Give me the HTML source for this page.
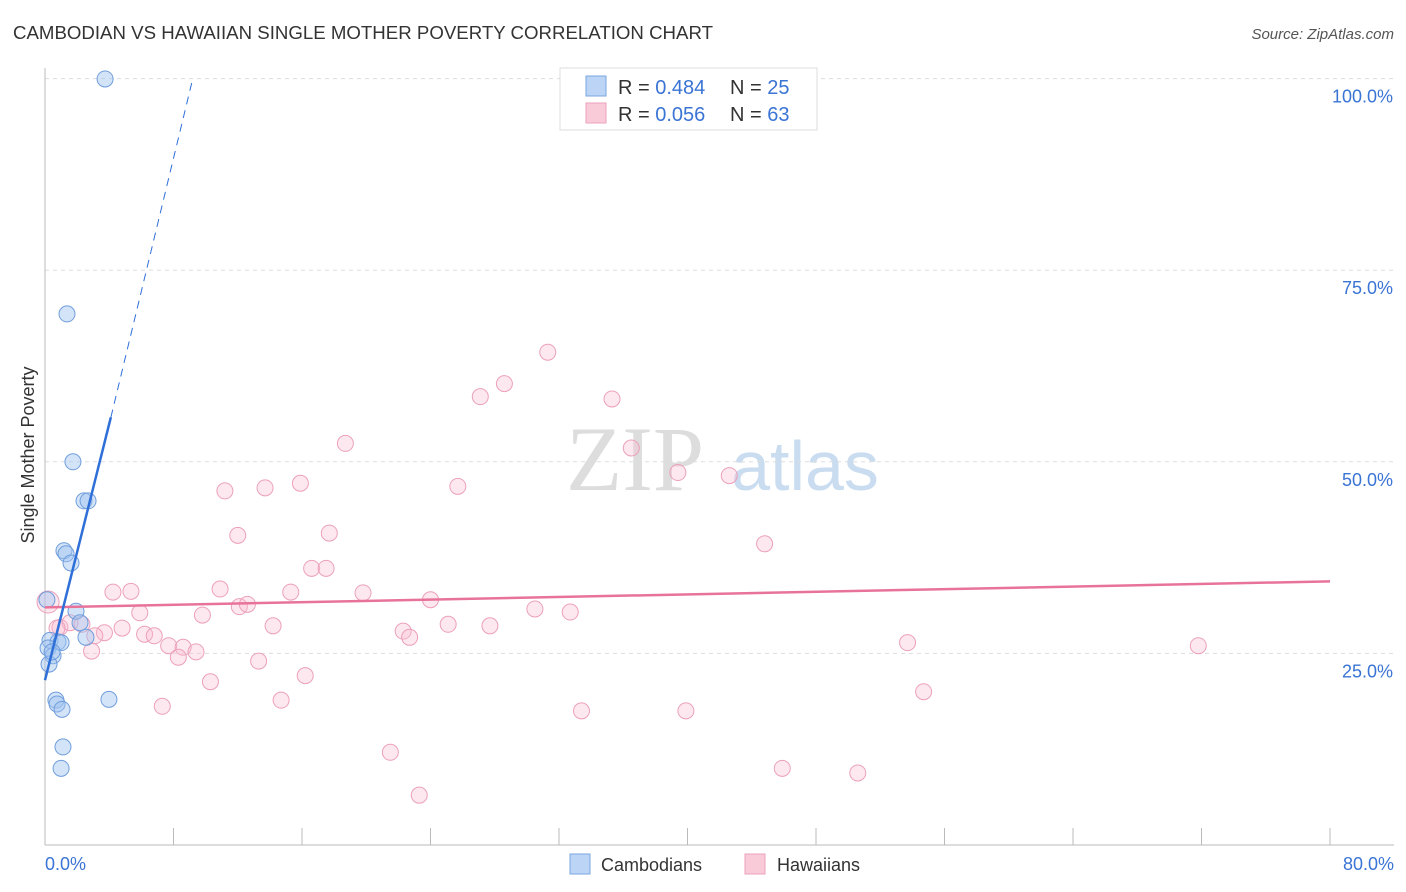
<!DOCTYPE html>
<html><head><meta charset="utf-8"><style>
body{margin:0;background:#fff;font-family:"Liberation Sans",sans-serif;}
svg{display:block}
</style></head><body>
<svg id="chart" width="1406" height="892">
<text x="13" y="39" font-size="18" fill="#333" textLength="700" lengthAdjust="spacingAndGlyphs">CAMBODIAN VS HAWAIIAN SINGLE MOTHER POVERTY CORRELATION CHART</text>
<text x="1394" y="39" font-size="15" fill="#555" font-style="italic" text-anchor="end">Source: ZipAtlas.com</text>
<text x="635" y="490" font-size="92" fill="#ddd" font-family="Liberation Serif,serif" text-anchor="middle">ZIP</text>
<text x="805" y="490" font-size="70" fill="#c9dcf0" text-anchor="middle">atlas</text>
<text transform="translate(34,455) rotate(-90)" font-size="18" fill="#333" text-anchor="middle">Single Mother Poverty</text>
<g id="grid"></g><g id="axes"></g><g id="marks"></g>
<g>
<rect x="560" y="68" width="257" height="62" fill="#fff" stroke="#ddd"/>
<rect x="586" y="76" width="20" height="20" fill="#bcd4f5" stroke="#7aa6e0"/>
<text x="618" y="94" font-size="20" fill="#333">R = <tspan fill="#3a74d4">0.484</tspan></text>
<text x="730" y="94" font-size="20" fill="#333">N = <tspan fill="#3a74d4">25</tspan></text>
<rect x="586" y="103" width="20" height="20" fill="#f9cbd9" stroke="#eca0bb"/>
<text x="618" y="121" font-size="20" fill="#333">R = <tspan fill="#3a74d4">0.056</tspan></text>
<text x="730" y="121" font-size="20" fill="#333">N = <tspan fill="#3a74d4">63</tspan></text>
</g>
<g>
<rect x="570" y="854" width="20" height="20" fill="#bcd4f5" stroke="#7aa6e0"/>
<text x="601" y="871" font-size="18" fill="#333">Cambodians</text>
<rect x="745" y="854" width="20" height="20" fill="#f9cbd9" stroke="#eca0bb"/>
<text x="777" y="871" font-size="18" fill="#333">Hawaiians</text>
</g>
</svg>
<script>
const camX=[3.74,1.37,1.74,2.43,2.68,1.18,1.31,1.62,1.93,2.18,2.55,0.31,0.81,1.0,0.19,0.5,0.25,0.68,0.75,1.06,3.98,1.12,1.0,0.12,0.44];
const camY=[99.95,69.3,50.0,44.9,44.9,38.4,38.0,36.8,30.5,29.0,27.1,26.7,26.5,26.4,25.7,24.7,23.6,18.9,18.4,17.7,19.0,12.8,10.0,32.0,25.2];
const hawX=[31.3,28.6,27.1,35.3,18.7,36.5,39.4,42.6,11.2,13.7,15.9,25.7,12.0,17.7,44.8,4.23,5.35,10.9,15.3,16.6,17.5,19.8,24.0,12.1,12.6,5.9,9.8,30.5,32.7,4.8,3.7,6.2,6.8,0.93,1.56,2.3,3.1,2.9,7.7,8.6,9.4,8.3,14.2,22.3,22.7,25.1,27.7,53.7,71.8,13.3,16.2,10.3,7.3,14.7,54.7,21.5,33.4,39.9,45.9,50.6,23.3,0.19,0.75];
const hawY=[64.3,60.2,58.5,58.2,52.4,51.8,48.6,48.2,46.2,46.6,47.2,46.8,40.4,40.7,39.3,33.0,33.1,33.4,33.0,36.1,36.1,32.9,32.0,31.1,31.4,30.3,30.0,30.8,30.4,28.3,27.7,27.5,27.3,28.4,29.0,28.8,27.3,25.3,26.0,25.8,25.2,24.5,28.6,27.9,27.1,28.8,28.6,26.4,26.0,24.0,22.1,21.3,18.1,18.9,20.0,12.1,17.5,17.5,10.0,9.4,6.5,31.7,28.3];
const yTicks=[25,50,75,100];
const yTickLabels=["25.0%","50.0%","75.0%","100.0%"];
const xTicks=[0,8,16,24,32,40,48,56,64,72,80];
const camTrend=[[0,21.5],[4.1,55.8],[9.2,100]];
const hawTrend=[[0,31],[80,34.4]];
const NS="http://www.w3.org/2000/svg";
const sx=v=>45+v*1285/80, sy=v=>845-v*7.664;
function mk(p,t,a){const e=document.createElementNS(NS,t);for(const k in a)e.setAttribute(k,a[k]);p.appendChild(e);return e;}
const grid=document.getElementById('grid'),axes=document.getElementById('axes'),marks=document.getElementById('marks');
yTicks.forEach((t,i)=>{
 const l=mk(grid,'line',{x1:45,x2:1394,y1:sy(t),y2:sy(t),stroke:'#ddd','stroke-dasharray':'4,4'});
 
 
 const tx=mk(axes,'text',{x:1393,y:sy(t)+24,'font-size':18,fill:'#3a74d4','text-anchor':'end'});tx.textContent=yTickLabels[i];
 
 
});
const ax=mk(axes,'line',{x1:45,x2:1394,y1:845,y2:845,stroke:'#bbb'});


const ay=mk(axes,'line',{x1:45,x2:45,y1:68,y2:845,stroke:'#bbb'});


xTicks.forEach(t=>{const l=mk(axes,'line',{x1:sx(t),x2:sx(t),y1:828,y2:845,stroke:'#bbb'});
 
 });
const x0=mk(axes,'text',{x:45,y:870,'font-size':18,fill:'#3a74d4'});x0.textContent='0.0%';


const x1=mk(axes,'text',{x:1394,y:870,'font-size':18,fill:'#3a74d4','text-anchor':'end'});x1.textContent='80.0%';


hawX.forEach((x,i)=>{const c=mk(marks,'circle',{cx:sx(x),cy:sy(hawY[i]),r:i==61?11:8,fill:'rgba(248,190,210,0.35)',stroke:'#eca0bb','stroke-width':1});
 
 });
camX.forEach((x,i)=>{const c=mk(marks,'circle',{cx:sx(x),cy:sy(camY[i]),r:8,fill:'rgba(160,196,240,0.45)',stroke:'#6f9ddc','stroke-width':1});
 
 });
const hl=mk(marks,'line',{x1:sx(hawTrend[0][0]),y1:sy(hawTrend[0][1]),x2:sx(hawTrend[1][0]),y2:sy(hawTrend[1][1]),stroke:'#e8739a','stroke-width':2.5});


const cl=mk(marks,'line',{x1:sx(camTrend[0][0]),y1:sy(camTrend[0][1]),x2:sx(camTrend[1][0]),y2:sy(camTrend[1][1]),stroke:'#2f6fd8','stroke-width':2.5});


const cd=mk(marks,'line',{x1:sx(camTrend[1][0]),y1:sy(camTrend[1][1]),x2:sx(camTrend[2][0]),y2:sy(camTrend[2][1]),stroke:'#2f6fd8','stroke-width':1,'stroke-dasharray':'8,6'});


</script>
</body></html>
